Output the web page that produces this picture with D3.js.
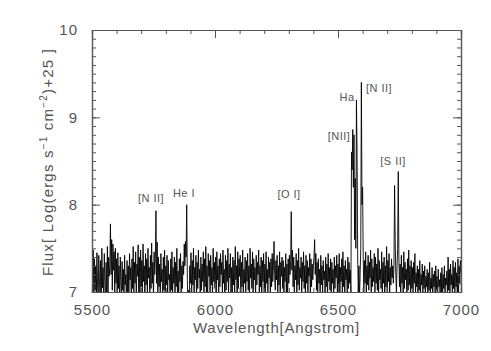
<!DOCTYPE html>
<html>
<head>
<script src="https://cdn.jsdelivr.net/npm/d3@7"></script>
<style>
  body { margin: 0; background: #fff; }
  text { font-family: "Liberation Sans", Arial, sans-serif; fill: #555; }
</style>
</head>
<body>
<script>
var w = 491, h = 351;
var padding = {left: 92, right: 30, top: 30, bottom: 59};

// wavelength grid start/step (Angstrom) and flux values
var waveStart = 5500;
var waveStep = 2.5;
var flux = [
  7.55, 7.10, 7.48, 6.85, 7.38, 7.02, 7.30, 6.92, 7.45, 7.08,
  6.88, 7.42, 7.15, 6.95, 7.36, 6.80, 7.50, 7.05, 7.28, 6.90,
  7.44, 7.12, 6.86, 7.34, 7.00, 7.52, 6.94, 7.40, 7.18, 7.30,
  7.78, 7.20, 7.60, 7.02, 7.55, 7.25, 7.46, 6.98, 7.50, 7.10,
  7.38, 6.90, 7.45, 7.04, 7.30, 6.84, 7.40, 7.12, 6.95, 7.35,
  7.02, 7.26, 6.88, 7.42, 7.08, 7.20, 6.82, 7.36, 7.00, 7.30,
  6.92, 7.44, 7.14, 7.28, 6.86, 7.38, 7.04, 7.52, 6.96, 7.34,
  7.10, 7.46, 6.90, 7.32, 7.18, 7.54, 7.00, 7.40, 6.88, 7.48,
  7.06, 7.36, 6.94, 7.55, 7.12, 7.30, 6.85, 7.44, 7.08, 7.38,
  6.98, 7.50, 7.16, 7.28, 6.90, 7.42, 7.04, 7.56, 7.10, 7.34,
  6.92, 7.46, 7.20, 7.38, 7.93, 7.10, 7.57, 6.95, 7.40, 7.06,
  7.32, 6.88, 7.44, 7.12, 7.26, 6.84, 7.40, 7.02, 7.48, 6.96,
  7.30, 7.08, 7.42, 6.90, 7.36, 7.14, 7.20, 6.86, 7.38, 7.02,
  7.46, 6.94, 7.28, 7.10, 7.40, 6.88, 7.34, 7.06, 7.50, 7.00,
  7.24, 6.92, 7.38, 7.12, 7.44, 6.96, 7.30, 7.04, 7.35, 7.20,
  7.55, 7.30, 7.58, 7.40, 8.00, 7.15, 6.85, 7.02, 6.80, 7.30,
  7.10, 7.45, 6.92, 7.36, 7.08, 7.50, 6.96, 7.28, 7.14, 7.42,
  6.90, 7.34, 7.04, 7.48, 7.16, 7.26, 6.86, 7.40, 7.02, 7.32,
  7.12, 7.46, 6.94, 7.38, 7.06, 7.52, 7.00, 7.30, 6.88, 7.44,
  7.18, 7.36, 6.96, 7.42, 7.08, 7.28, 6.90, 7.50, 7.12, 7.34,
  7.04, 7.40, 6.92, 7.46, 7.14, 7.30, 6.86, 7.38, 7.06, 7.44,
  7.20, 7.34, 6.98, 7.48, 7.10, 7.26, 6.88, 7.42, 7.02, 7.36,
  7.12, 7.50, 6.94, 7.32, 7.16, 7.44, 7.00, 7.28, 6.90, 7.40,
  7.08, 7.36, 6.96, 7.52, 7.14, 7.30, 6.86, 7.46, 7.04, 7.38,
  7.18, 7.42, 6.92, 7.34, 7.06, 7.48, 6.98, 7.26, 7.10, 7.40,
  6.94, 7.36, 7.12, 7.44, 7.02, 7.30, 6.88, 7.50, 7.16, 7.32,
  7.04, 7.46, 6.90, 7.38, 7.14, 7.28, 6.96, 7.42, 7.08, 7.34,
  7.20, 7.48, 6.94, 7.30, 7.06, 7.40, 6.86, 7.36, 7.12, 7.44,
  7.00, 7.32, 6.92, 7.46, 7.10, 7.26, 6.98, 7.40, 7.16, 7.34,
  6.90, 7.38, 7.06, 7.44, 7.12, 7.30, 7.58, 7.20, 7.02, 7.36,
  7.14, 7.42, 6.96, 7.30, 7.08, 7.46, 6.90, 7.34, 7.18, 7.40,
  7.04, 7.36, 6.94, 7.28, 7.12, 7.44, 7.00, 7.32, 6.88, 7.38,
  7.10, 7.42, 7.20, 7.35, 7.92, 7.25, 7.48, 7.06, 7.40, 6.96,
  7.30, 7.14, 7.44, 6.92, 7.36, 7.08, 7.50, 7.02, 7.28, 7.16,
  7.40, 6.98, 7.34, 7.12, 7.46, 7.04, 7.30, 6.94, 7.42, 7.10,
  7.36, 7.00, 7.28, 7.18, 7.44, 6.90, 7.38, 7.06, 7.32, 7.14,
  7.30, 7.40, 7.60, 7.20, 7.44, 7.02, 7.34, 6.96, 7.38, 7.10,
  7.26, 6.92, 7.42, 7.08, 7.30, 7.00, 7.36, 7.14, 7.24, 6.94,
  7.40, 7.06, 7.32, 6.90, 7.44, 7.12, 7.28, 7.02, 7.38, 6.96,
  7.34, 7.10, 7.26, 6.88, 7.40, 7.04, 7.30, 7.16, 7.42, 6.98,
  7.32, 7.08, 7.44, 6.94, 7.28, 7.12, 7.38, 7.00, 7.46, 7.06,
  7.30, 6.92, 7.36, 7.14, 7.26, 6.98, 7.40, 7.04, 7.34, 7.10,
  7.25, 7.00, 8.60, 8.40, 8.86, 8.20, 8.80, 7.60, 8.30, 7.50,
  9.20, 8.60, 7.40, 7.00, 7.30, 6.95, 7.20, 7.50, 9.40, 8.00,
  8.20, 7.40, 7.00, 7.36, 7.10, 7.46, 6.94, 7.30, 7.08, 7.42,
  7.02, 7.34, 7.16, 7.48, 6.90, 7.38, 7.06, 7.28, 7.12, 7.44,
  6.96, 7.40, 7.10, 7.32, 7.02, 7.50, 6.92, 7.36, 7.14, 7.26,
  7.04, 7.46, 6.98, 7.34, 7.10, 7.40, 6.88, 7.30, 7.06, 7.52,
  7.00, 7.36, 7.12, 7.44, 6.94, 7.28, 7.08, 7.38, 7.16, 7.30,
  7.10, 7.30, 8.22, 7.60, 7.20, 7.00, 7.30, 7.50, 8.38, 7.40,
  7.06, 7.32, 6.92, 7.42, 7.10, 7.28, 6.96, 7.46, 7.04, 7.34,
  7.14, 7.26, 6.90, 7.38, 7.02, 7.48, 7.08, 7.30, 6.94, 7.36,
  7.04, 7.28, 6.92, 7.34, 7.10, 7.44, 6.96, 7.22, 7.06, 7.30,
  6.90, 7.26, 7.02, 7.36, 6.94, 7.20, 7.08, 7.32, 6.98, 7.24,
  7.04, 7.30, 6.92, 7.18, 7.06, 7.26, 6.96, 7.22, 7.02, 7.34,
  6.94, 7.16, 7.04, 7.28, 6.90, 7.20, 7.06, 7.24, 6.98, 7.30,
  7.02, 7.18, 6.92, 7.26, 7.06, 7.14, 6.96, 7.22, 7.00, 7.28,
  6.94, 7.20, 7.04, 7.30, 6.90, 7.16, 7.08, 7.24, 6.96, 7.40,
  7.02, 7.26, 6.94, 7.32, 7.08, 7.20, 6.98, 7.36, 7.04, 7.28,
  6.92, 7.34, 7.06, 7.22, 6.96, 7.38, 7.00, 7.30, 7.10, 7.36,
  7.22
];

// line identifications: label, label centre wavelength, label baseline flux
var lineNames = ["[N II]", "He I", "[O I]", "[NII]", "Ha", "[N II]", "[S II]"];
var lineWaves = [5740, 5874, 6301, 6504, 6537, 6667, 6724];
var lineFlux  = [8.03, 8.09, 8.08, 8.74, 9.19, 9.29, 8.45];

var xTicks = [5500, 6000, 6500, 7000];
var yTicks = [7, 8, 9, 10];

var data = flux.map(function (f, i) { return [waveStart + i * waveStep, f]; });

var svg = d3.select("body").append("svg")
  .attr("width", w).attr("height", h);

var xScale = d3.scaleLinear().domain([5500, 7000])
  .range([padding.left, w - padding.right]);
var yScale = d3.scaleLinear().domain([7, 10])
  .range([h - padding.bottom, padding.top]);

var x0 = padding.left, x1 = w - padding.right;
var y0 = padding.top, y1 = h - padding.bottom;

svg.append("clipPath").attr("id", "clip")
  .append("rect").attr("x", x0).attr("y", y0)
  .attr("width", x1 - x0).attr("height", y1 - y0);

var line = d3.line()
  .x(function (d) { return xScale(d[0]); })
  .y(function (d) { return yScale(d[1]); });

svg.append("path")
  .datum(data)
  .attr("clip-path", "url(#clip)")
  .attr("fill", "none")
  .attr("stroke", "#000")
  .attr("stroke-width", 0.9)
  .attr("d", line);

// IDL style box axes, ticks pointing inward on all four sides
var axisColor = "#555";
function styleAxis(g) {
  g.select(".domain").attr("stroke", axisColor);
  g.selectAll(".tick line").attr("stroke", axisColor);
  g.selectAll(".tick text").attr("fill", "#555").style("font-size", "15px")
    .style("font-family", "Liberation Sans, Arial, sans-serif")
    .style("letter-spacing", "1px");
}

var xMinor = d3.range(5500, 7001, 100);
var yMinor = d3.range(7, 10.001, 0.1);

// bottom
svg.append("g").attr("transform", "translate(0," + y1 + ")")
  .call(d3.axisBottom(xScale).tickValues(xMinor).tickSize(-4).tickFormat(""))
  .call(styleAxis);
svg.append("g").attr("transform", "translate(0," + y1 + ")")
  .call(d3.axisBottom(xScale).tickValues(xTicks).tickSize(-8).tickPadding(12)
    .tickFormat(d3.format("d")))
  .call(styleAxis);
// top
svg.append("g").attr("transform", "translate(0," + y0 + ")")
  .call(d3.axisTop(xScale).tickValues(xMinor).tickSize(-4).tickFormat(""))
  .call(styleAxis);
svg.append("g").attr("transform", "translate(0," + y0 + ")")
  .call(d3.axisTop(xScale).tickValues(xTicks).tickSize(-8).tickFormat(""))
  .call(styleAxis);
// left
svg.append("g").attr("transform", "translate(" + x0 + ",0)")
  .call(d3.axisLeft(yScale).tickValues(yMinor).tickSize(-4).tickFormat(""))
  .call(styleAxis);
svg.append("g").attr("transform", "translate(" + x0 + ",0)")
  .call(d3.axisLeft(yScale).tickValues(yTicks).tickSize(-8).tickPadding(14)
    .tickFormat(d3.format("d")))
  .call(styleAxis);
// right
svg.append("g").attr("transform", "translate(" + x1 + ",0)")
  .call(d3.axisRight(yScale).tickValues(yMinor).tickSize(-4).tickFormat(""))
  .call(styleAxis);
svg.append("g").attr("transform", "translate(" + x1 + ",0)")
  .call(d3.axisRight(yScale).tickValues(yTicks).tickSize(-8).tickFormat(""))
  .call(styleAxis);

svg.selectAll(".domain").attr("stroke-width", 1.2);

// axis titles
svg.append("text")
  .attr("x", (x0 + x1) / 2).attr("y", 333)
  .attr("text-anchor", "middle")
  .style("font-size", "15px").style("letter-spacing", "0.8px")
  .text("Wavelength[Angstrom]");

var ylab = svg.append("text")
  .attr("transform", "translate(53," + ((y0 + y1) / 2 + 1) + ") rotate(-90)")
  .attr("text-anchor", "middle")
  .style("font-size", "15px").style("letter-spacing", "1.2px");
ylab.append("tspan").text("Flux[ Log(ergs s");
ylab.append("tspan").attr("dy", -6).style("font-size", "10px").text("\u22121");
ylab.append("tspan").attr("dy", 6).text(" cm");
ylab.append("tspan").attr("dy", -6).style("font-size", "10px").text("\u22122");
ylab.append("tspan").attr("dy", 6).text(")+25 ]");

// emission line labels
svg.selectAll(".lbl")
  .data(lineNames)
  .enter().append("text")
  .attr("class", "lbl")
  .attr("x", function (d, i) { return xScale(lineWaves[i]); })
  .attr("y", function (d, i) { return yScale(lineFlux[i]); })
  .attr("text-anchor", "middle")
  .style("font-size", "11px")
  .style("letter-spacing", "0.5px")
  .text(function (d) { return d; });
</script>
</body>
</html>
